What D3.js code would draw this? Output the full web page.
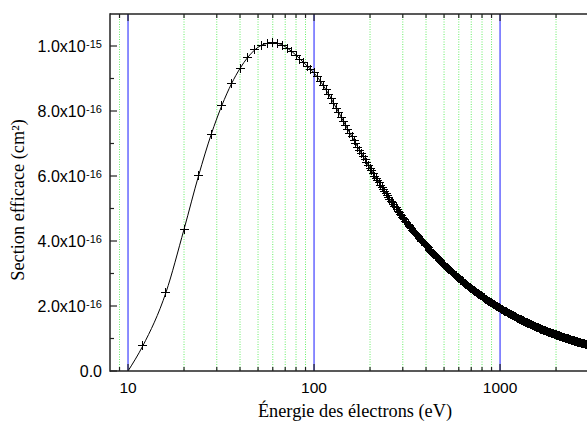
<!DOCTYPE html>
<html><head><meta charset="utf-8">
<script src="https://cdn.jsdelivr.net/npm/d3@7/dist/d3.min.js"></script>
<style>body{margin:0;background:#fff}svg{display:block}</style>
</head><body><svg id="c" width="587" height="422"></svg>
<script>
// electron energy (eV)
const energies = [10,12,16,20,24,28,32,36,40,44,48,52,56,60,64,68,72,76,80,84,88,92,96,100,
104,108,112,116,120,124,128,132,136,140,144,148,152,156,160,164,168,172,176,180,184,188,192,196,200,
204,208,212,216,220,224,228,232,236,240,244,248,252,256,260,264,268,272,276,280,284,288,292,296,300,
304,308,312,316,320,324,328,332,336,340,344,348,352,356,360,364,368,372,376,380,384,388,392,396,400,
405,410,415,420,425,430,435,440,445,450,455,460,465,470,475,480,485,490,495,500,
505,510,515,520,525,530,535,540,545,550,555,560,565,570,575,580,585,590,595,600,
605,610,615,620,625,630,635,640,645,650,655,660,665,670,675,680,685,690,695,700,
705,710,715,720,725,730,735,740,745,750,755,760,765,770,775,780,785,790,795,800,
810,820,830,840,850,860,870,880,890,900,910,920,930,940,950,960,970,980,990,1000,
1010,1020,1030,1040,1050,1060,1070,1080,1090,1100,1110,1120,1130,1140,1150,1160,1170,1180,1190,1200,
1210,1220,1230,1240,1250,1260,1270,1280,1290,1300,1310,1320,1330,1340,1350,1360,1370,1380,1390,1400,
1410,1420,1430,1440,1450,1460,1470,1480,1490,1500,1510,1520,1530,1540,1550,1560,1570,1580,1590,1600,
1620,1640,1660,1680,1700,1720,1740,1760,1780,1800,1820,1840,1860,1880,1900,1920,1940,1960,1980,2000,
2020,2040,2060,2080,2100,2120,2140,2160,2180,2200,2220,2240,2260,2280,2300,2320,2340,2360,2380,2400,
2420,2440,2460,2480,2500,2520,2540,2560,2580,2600,2620,2640,2660,2680,2700,2720,2740,2760,2780,2800,
2820,2840,2860,2880,2900,2920,2940,2960,2980,3000];
// cross section in units of 1e-16 cm^2
const sigma = [0,0.77,2.42,4.36,6.03,7.28,8.18,8.84,9.31,9.65,9.88,10.02,10.08,10.10,10.08,10.02,9.93,9.83,9.72,9.60,9.49,9.38,9.28,9.17,
9.05,8.92,8.79,8.65,8.51,8.37,8.22,8.08,7.95,7.81,7.68,7.55,7.43,7.32,7.21,7.10,6.99,6.89,6.79,6.69,6.59,6.50,6.42,6.33,6.24,
6.16,6.08,6.00,5.93,5.86,5.79,5.72,5.65,5.59,5.52,5.46,5.40,5.34,5.28,5.23,5.17,5.12,5.07,5.02,4.97,4.92,4.87,4.82,4.78,4.73,
4.69,4.65,4.61,4.56,4.52,4.48,4.45,4.41,4.37,4.33,4.30,4.26,4.23,4.19,4.16,4.13,4.09,4.06,4.03,4.00,3.97,3.94,3.91,3.88,3.86,
3.82,3.79,3.75,3.72,3.69,3.66,3.63,3.60,3.57,3.54,3.51,3.48,3.45,3.43,3.40,3.37,3.35,3.32,3.30,3.27,
3.25,3.22,3.20,3.18,3.16,3.13,3.11,3.09,3.07,3.05,3.03,3.01,2.99,2.97,2.95,2.93,2.91,2.89,2.87,2.86,
2.84,2.82,2.80,2.79,2.77,2.75,2.74,2.72,2.70,2.69,2.67,2.66,2.64,2.63,2.61,2.60,2.58,2.57,2.55,2.54,
2.53,2.51,2.50,2.49,2.47,2.46,2.45,2.44,2.42,2.41,2.40,2.39,2.37,2.36,2.35,2.34,2.33,2.32,2.31,2.29,
2.273,2.251,2.230,2.210,2.190,2.170,2.151,2.132,2.113,2.095,2.077,2.060,2.042,2.025,2.009,1.992,1.976,1.961,1.945,1.930,
1.915,1.900,1.886,1.872,1.858,1.844,1.831,1.817,1.804,1.791,1.779,1.766,1.754,1.742,1.730,1.718,1.707,1.695,1.684,1.673,
1.662,1.651,1.641,1.630,1.620,1.610,1.600,1.590,1.580,1.570,1.561,1.552,1.542,1.533,1.524,1.515,1.506,1.498,1.489,1.480,
1.472,1.464,1.456,1.448,1.440,1.432,1.424,1.416,1.409,1.401,1.394,1.387,1.379,1.372,1.365,1.358,1.351,1.345,1.338,1.331,
1.317,1.304,1.292,1.280,1.268,1.256,1.244,1.232,1.221,1.211,1.200,1.189,1.179,1.169,1.159,1.149,1.140,1.130,1.121,1.112,
1.103,1.094,1.086,1.077,1.069,1.061,1.053,1.045,1.037,1.029,1.022,1.014,1.006,0.999,0.993,0.986,0.979,0.972,0.965,0.959,
0.953,0.946,0.940,0.933,0.927,0.921,0.915,0.909,0.904,0.898,0.892,0.887,0.881,0.876,0.871,0.865,0.860,0.855,0.850,0.845,
0.840,0.835,0.831,0.826,0.821,0.816,0.812,0.808,0.803,0.798];
const sigmaUnit = 1e-16;
const yTickValues = [0, 2e-16, 4e-16, 6e-16, 8e-16, 1e-15];
const yTickMantissa = ["0.0", "2.0x10", "4.0x10", "6.0x10", "8.0x10", "1.0x10"];
const yTickExponent = ["", "-16", "-16", "-16", "-16", "-15"];
const yMinorTicks = [1e-16, 3e-16, 5e-16, 7e-16, 9e-16];
const xMajorTicks = [10, 100, 1000];
const xMajorLabels = ["10", "100", "1000"];
const xMinorTicks = [9, 20, 30, 40, 50, 60, 70, 80, 90, 200, 300, 400, 500, 600, 700, 800, 900, 2000, 3000];
const xTitle = "Énergie des électrons (eV)";
const yTitle = "Section efficace (cm²)";

const svg = d3.select("#c");
const pLeft = 110, pTop = 14, pBottom = 371, pRight = 588.8;
const x = d3.scaleLog().domain([8, 3000]).range([pLeft, pRight]);
const y = d3.scaleLinear().domain([0, 1.1e-15]).range([pBottom, 13.5]);

// green dotted grid at minor decades
svg.append("g").selectAll("line").data(xMinorTicks).join("line")
  .attr("x1", d => x(d)).attr("x2", d => x(d))
  .attr("y1", pTop).attr("y2", pBottom)
  .attr("stroke", "#66ee66").attr("stroke-width", 1).attr("stroke-dasharray", "1,1.5");
// blue lines at decades
svg.append("g").selectAll("line").data(xMajorTicks).join("line")
  .attr("x1", d => x(d)).attr("x2", d => x(d))
  .attr("y1", pTop).attr("y2", pBottom)
  .attr("stroke", "#1a1aff").attr("stroke-width", 1);

// curve
const pts = energies.map((e, i) => ({e, s: sigma[i] * sigmaUnit}));
svg.append("path").datum(pts)
  .attr("fill", "none").attr("stroke", "#000").attr("stroke-width", 1)
  .attr("d", d3.line().x(d => x(d.e)).y(d => y(d.s)).curve(d3.curveMonotoneX));
svg.append("g").attr("shape-rendering", "crispEdges")
  .selectAll("path").data(pts.filter(d => d.s > 0)).join("path")
  .attr("transform", d => `translate(${x(d.e)},${y(d.s)})`)
  .attr("d", "M-4.5,0H4.5M0,-4.5V4.5")
  .attr("stroke", "#000").attr("stroke-width", 1).attr("fill", "none");

// axes
const axCol = "#222";
const ax = svg.append("g").attr("stroke", axCol).attr("stroke-width", 1.5).attr("fill", "none");
ax.append("line").attr("x1", pLeft).attr("x2", pLeft).attr("y1", pTop - 0.75).attr("y2", pBottom + 0.75);
ax.append("line").attr("x1", pLeft).attr("x2", 590).attr("y1", pBottom).attr("y2", pBottom);
ax.append("line").attr("x1", pLeft).attr("x2", 590).attr("y1", pTop).attr("y2", pTop);
const tk = svg.append("g").attr("stroke", axCol).attr("stroke-width", 1.2);
yTickValues.forEach(v => tk.append("line").attr("x1", pLeft).attr("x2", pLeft + 7).attr("y1", y(v)).attr("y2", y(v)));
yMinorTicks.forEach(v => tk.append("line").attr("x1", pLeft).attr("x2", pLeft + 4).attr("y1", y(v)).attr("y2", y(v)));
xMajorTicks.forEach(v => {
  tk.append("line").attr("x1", x(v)).attr("x2", x(v)).attr("y1", pBottom).attr("y2", pBottom - 7);
  tk.append("line").attr("x1", x(v)).attr("x2", x(v)).attr("y1", pTop).attr("y2", pTop + 7);
});
xMinorTicks.forEach(v => {
  tk.append("line").attr("x1", x(v)).attr("x2", x(v)).attr("y1", pBottom).attr("y2", pBottom - 4);
  tk.append("line").attr("x1", x(v)).attr("x2", x(v)).attr("y1", pTop).attr("y2", pTop + 4);
});

// labels
const sans = "'Liberation Sans', Arial, sans-serif";
yTickValues.forEach((v, i) => {
  const t = svg.append("text").attr("x", 102).attr("y", y(v) + 6)
    .attr("text-anchor", "end").attr("font-family", sans).attr("font-size", 16).attr("fill", "#000");
  t.append("tspan").text(yTickMantissa[i]);
  if (yTickExponent[i]) t.append("tspan").attr("dy", -4.5).attr("dx", 0.5).attr("font-size", 11).text(yTickExponent[i]);
});
xMajorTicks.forEach((v, i) => {
  svg.append("text").attr("x", x(v)).attr("y", 393).attr("text-anchor", "middle")
    .attr("font-family", sans).attr("font-size", 15.5).attr("fill", "#000").text(xMajorLabels[i]);
});
const serif = "'Liberation Serif', 'Times New Roman', serif";
svg.append("text").attr("x", 355).attr("y", 416.5).attr("text-anchor", "middle")
  .attr("font-family", serif).attr("font-size", 18.3).attr("fill", "#000").text(xTitle);
svg.append("text").attr("transform", "translate(24,200) rotate(-90)").attr("text-anchor", "middle")
  .attr("font-family", serif).attr("font-size", 18.3).attr("fill", "#000").text(yTitle);
</script></body></html>
